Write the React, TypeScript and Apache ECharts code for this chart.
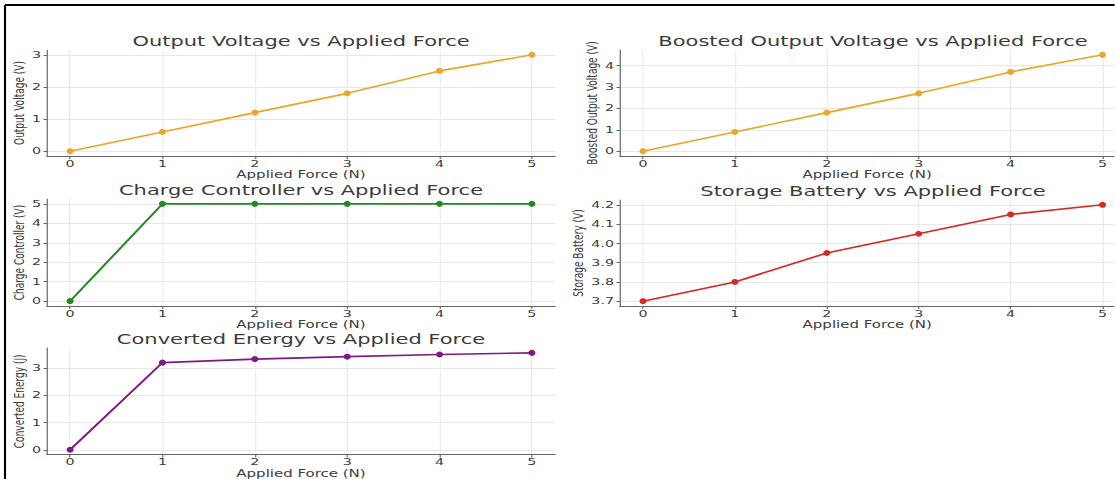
import React, { useEffect, useRef } from "react";
import * as echarts from "echarts";

const forces = [0, 1, 2, 3, 4, 5];
const outputVoltage = [0, 0.6, 1.2, 1.8, 2.5, 3.0];
const boostedVoltage = [0, 0.9, 1.8, 2.7, 3.7, 4.5];
const chargeController = [0, 5, 5, 5, 5, 5];
const storageBattery = [3.7, 3.8, 3.95, 4.05, 4.15, 4.2];
const convertedEnergy = [0, 3.2, 3.33, 3.42, 3.5, 3.56];

const ticksOutput = [0, 1, 2, 3];
const ticksBoosted = [0, 1, 2, 3, 4];
const ticksCharge = [0, 1, 2, 3, 4, 5];
const ticksBattery = [3.7, 3.8, 3.9, 4.0, 4.1, 4.2];
const ticksEnergy = [0, 1, 2, 3];

const titles = [
  "Output Voltage vs Applied Force",
  "Boosted Output Voltage vs Applied Force",
  "Charge Controller vs Applied Force",
  "Storage Battery vs Applied Force",
  "Converted Energy vs Applied Force",
];
const yNames = [
  "Output Voltage (V)",
  "Boosted Output Voltage (V)",
  "Charge Controller (V)",
  "Storage Battery (V)",
  "Converted Energy (J)",
];
const xName = "Applied Force (N)";

const panels = [
  { values: outputVoltage, ticks: ticksOutput, color: "#e9a82b", dec: 0 },
  { values: boostedVoltage, ticks: ticksBoosted, color: "#e9a82b", dec: 0 },
  { values: chargeController, ticks: ticksCharge, color: "#238a23", dec: 0 },
  { values: storageBattery, ticks: ticksBattery, color: "#d42a2a", dec: 1 },
  { values: convertedEnergy, ticks: ticksEnergy, color: "#7f1a7f", dec: 0 },
];

// The reference picture is stretched horizontally; the chart is drawn in a
// narrower space and widened by SX.
const SX = 1.5;
const W = 1115;
const H = 479;

// layout in screen pixels: axes left/right edges, top, height, y-name gap,
// right-edge clip (the top-right panels run past the picture's edge)
const layout = [
  { x0: 47, x1: 555, top: 50, height: 106, gap: 14, clip: 0 },
  { x0: 620, x1: 1126, top: 50, height: 106, gap: 14, clip: 1115 },
  { x0: 47, x1: 555, top: 199, height: 107, gap: 14, clip: 0 },
  { x0: 620, x1: 1126, top: 200, height: 106, gap: 23, clip: 1115 },
  { x0: 47, x1: 555, top: 348, height: 108.5, gap: 14, clip: 0 },
];

const FONT = "DejaVu Sans";
const TXT = "#3c3c3c";
const SPINE = "#666";
const GRID = "#e8e8e8";

export default function App() {
  const ref = useRef<HTMLDivElement>(null);
  useEffect(() => {
    const chart = echarts.init(ref.current!, undefined, { renderer: "svg" });
    const grid: any[] = [];
    const xAxis: any[] = [];
    const yAxis: any[] = [];
    const series: any[] = [];
    const title: any[] = [];
    panels.forEach((p, i) => {
      const L = layout[i];
      const xMin = Math.min(...forces);
      const xMax = Math.max(...forces);
      const xPad = (xMax - xMin) * 0.05;
      const lo = xMin - xPad;
      let hi = xMax + xPad;
      let right = L.x1;
      if (L.clip && L.x1 > L.clip) {
        hi = lo + ((hi - lo) * (L.clip - L.x0)) / (L.x1 - L.x0);
        right = L.clip;
      }
      grid.push({
        left: L.x0 / SX,
        top: L.top,
        width: (right - L.x0) / SX,
        height: L.height,
        containLabel: false,
      });
      const yMin = Math.min(...p.values);
      const yMax = Math.max(...p.values);
      const yPad = (yMax - yMin) * 0.05;
      xAxis.push({
        type: "value",
        gridIndex: i,
        min: lo,
        max: hi,
        name: xName,
        nameLocation: "middle",
        nameGap: 10.5,
        nameTextStyle: { fontFamily: FONT, fontSize: 10, color: TXT },
        axisLine: { show: true, onZero: false, lineStyle: { color: SPINE, width: 1.2 } },
        axisTick: { show: true, length: 3, customValues: forces, lineStyle: { color: SPINE, width: 0.8 } },
        axisLabel: {
          customValues: forces,
          margin: 2.5,
          fontFamily: FONT,
          fontSize: 9.5,
          color: TXT,
          formatter: (v: number) => String(Math.round(v)),
        },
        splitLine: { show: true, lineStyle: { color: GRID, width: 0.7 } },
      });
      yAxis.push({
        type: "value",
        gridIndex: i,
        min: yMin - yPad,
        max: yMax + yPad,
        name: yNames[i],
        nameLocation: "middle",
        nameRotate: 90,
        nameGap: L.gap,
        nameTextStyle: { fontFamily: FONT, fontSize: 9, color: TXT },
        axisLine: { show: true, onZero: false, lineStyle: { color: SPINE, width: 0.8 } },
        axisTick: { show: true, length: 2.3, customValues: p.ticks, lineStyle: { color: SPINE, width: 1 } },
        axisLabel: {
          customValues: p.ticks,
          margin: 4,
          fontFamily: FONT,
          fontSize: 9.5,
          color: TXT,
          formatter: (v: number) => v.toFixed(p.dec),
        },
        splitLine: { show: true, lineStyle: { color: GRID, width: 1 } },
      });
      series.push({
        type: "line",
        xAxisIndex: i,
        yAxisIndex: i,
        data: forces.map((f, k) => [f, p.values[k]]),
        symbol: "circle",
        symbolSize: [4.7, 6],
        lineStyle: { color: p.color, width: 1.6 },
        itemStyle: { color: p.color },
        clip: false,
      });
      title.push({
        text: titles[i],
        left: (L.x0 + L.x1) / 2 / SX,
        top: L.top - 16,
        padding: 0,
        textAlign: "center",
        textStyle: { fontFamily: FONT, fontSize: 14, fontWeight: "normal", color: TXT },
      });
    });
    chart.setOption({
      animation: false,
      backgroundColor: "#fff",
      title,
      grid,
      xAxis,
      yAxis,
      series,
      graphic: [
        { type: "line", shape: { x1: 5 / SX, y1: 5, x2: W / SX, y2: 5 }, style: { stroke: "#000", lineWidth: 2 } },
        { type: "line", shape: { x1: 5 / SX, y1: 5, x2: 5 / SX, y2: H }, style: { stroke: "#000", lineWidth: 1.4 } },
      ],
    });
    return () => chart.dispose();
  }, []);
  return (
    <div style={{ position: "fixed", left: 0, top: 0, width: W, height: H, background: "#fff", overflow: "hidden" }}>
      <div
        ref={ref}
        style={{
          width: W / SX,
          height: H,
          transform: `scaleX(${SX})`,
          transformOrigin: "0 0",
        }}
      />
    </div>
  );
}
